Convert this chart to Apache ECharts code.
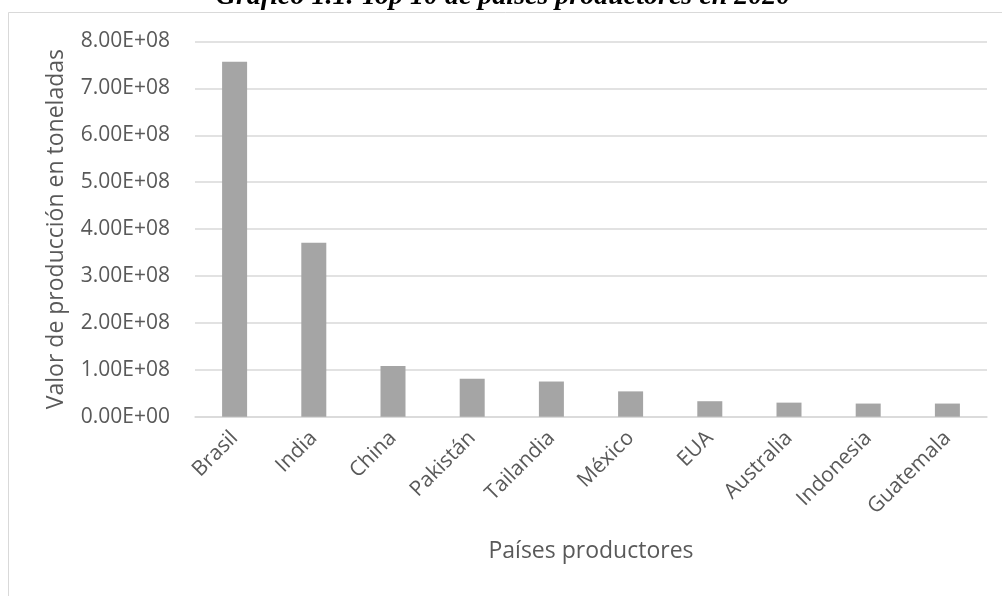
<!DOCTYPE html>
<html>
<head>
<meta charset="utf-8">
<script src="https://cdn.jsdelivr.net/npm/echarts@6/dist/echarts.min.js"></script>
<style>
html,body{margin:0;padding:0;background:#fff;}
#chart{width:1002px;height:596px;}
</style>
</head>
<body>
<div id="chart"></div>
<script>
const titleText = 'Gráfico 1.1. Top 10 de países productores en 2020';
const categories = ['Brasil','India','China','Pakistán','Tailandia','México','EUA','Australia','Indonesia','Guatemala'];
const values = [7.57e8, 3.71e8, 1.08e8, 0.81e8, 0.75e8, 0.54e8, 0.33e8, 0.30e8, 0.28e8, 0.28e8];
const yAxisName = 'Valor de producción en toneladas';
const xAxisName = 'Países productores';

function sci(v){
  if (v === 0) return '0.00E+00';
  const e = Math.floor(Math.log10(Math.abs(v)) + 1e-9);
  const m = v / Math.pow(10, e);
  return m.toFixed(2) + 'E' + (e < 0 ? '-' : '+') + String(Math.abs(e)).padStart(2,'0');
}

const chart = echarts.init(document.getElementById('chart'));
chart.setOption({
  animation:false,
  backgroundColor:'#fff',
  graphic:[
    {type:'rect', shape:{x:8.5,y:12.5,width:1010,height:600}, style:{fill:'none',stroke:'#d9d9d9',lineWidth:1}, silent:true},
    {type:'text', silent:true, style:{x:503, y:11, text:titleText, textAlign:'center', textVerticalAlign:'bottom', font:'italic bold 28px "Liberation Serif"', fill:'#000'}}
  ],
  grid:{left:195, right:15, top:41.5, bottom:179.3},
  xAxis:{
    type:'category', data:categories,
    axisLine:{lineStyle:{color:'#d9d9d9', width:1.5}},
    axisTick:{show:false},
    axisLabel:{rotate:45, margin:18, color:'#595959', fontSize:21, fontFamily:'Open Sans', interval:0},
    name:xAxisName, nameLocation:'middle', nameGap:123,
    nameTextStyle:{color:'#595959', fontSize:23, fontFamily:'Open Sans'}
  },
  yAxis:{
    type:'value', min:0, max:8e8, interval:1e8,
    axisLine:{show:false}, axisTick:{show:false},
    splitLine:{lineStyle:{color:'#d9d9d9', width:1.5}},
    axisLabel:{margin:25, color:'#595959', fontSize:21, fontFamily:'Open Sans', formatter:sci},
    name:yAxisName, nameLocation:'middle', nameGap:127,
    nameTextStyle:{color:'#595959', fontSize:23, fontFamily:'Open Sans'}
  },
  series:[{
    type:'bar', data:values, barWidth:25,
    itemStyle:{color:'#a5a5a5'}
  }]
});
</script>
</body>
</html>
